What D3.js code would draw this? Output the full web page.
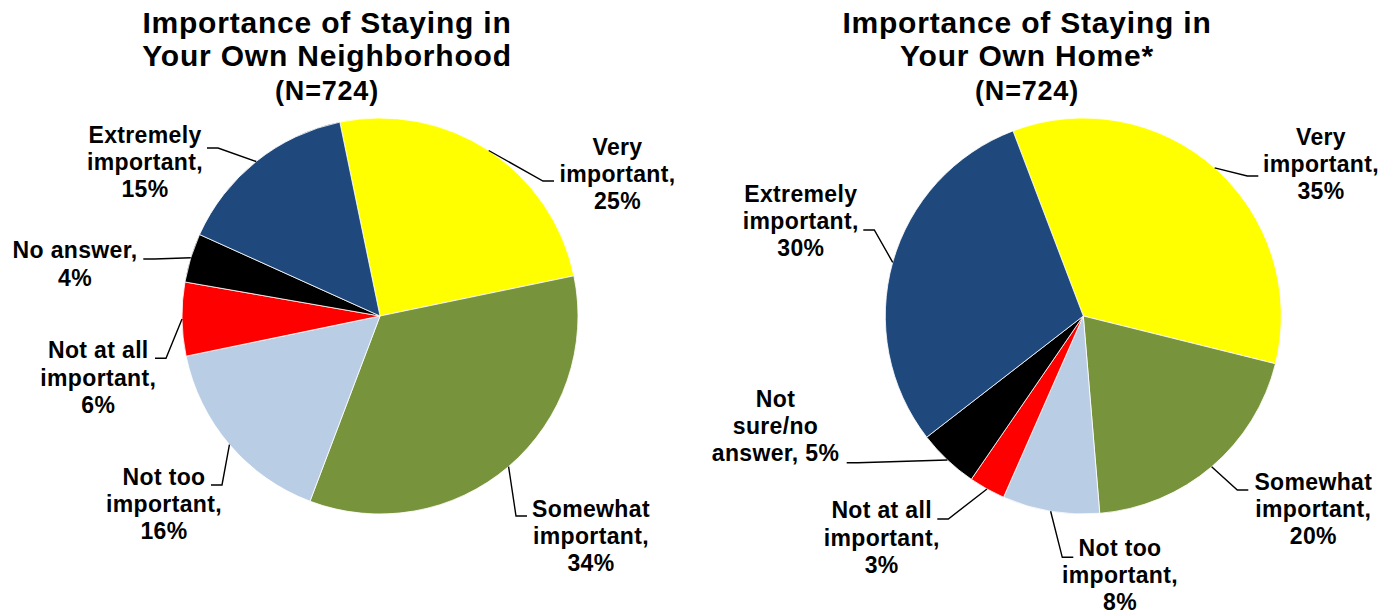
<!DOCTYPE html>
<html>
<head>
<meta charset="utf-8">
<script src="https://cdn.jsdelivr.net/npm/d3@7"></script>
<style>
  html, body { margin: 0; padding: 0; background: #fff; }
  svg { display: block; }
  text { font-family: "Liberation Sans", Arial, sans-serif; font-weight: bold; fill: #000; }
</style>
</head>
<body>
<svg id="chart" width="1395" height="615"></svg>
<script>
// ---------------- DATA ----------------
const leftTitle = ["Importance of Staying in", "Your Own Neighborhood", "(N=724)"];
const leftCategories = ["Very important", "Somewhat important", "Not too important", "Not at all important", "No answer", "Extremely important"];
const leftValues = [25, 34, 16, 6, 4, 15];

const rightTitle = ["Importance of Staying in", "Your Own Home*", "(N=724)"];
const rightCategories = ["Very important", "Somewhat important", "Not too important", "Not at all important", "Not sure/no answer", "Extremely important"];
const rightValues = [35, 20, 8, 3, 5, 30];

const sliceColors = ["#FFFF00", "#77933C", "#B9CDE5", "#FF0000", "#000000", "#1F497D"];

// ---------------- LAYOUT ----------------
const deg = Math.PI / 180;
const panels = [
  {
    title: leftTitle, categories: leftCategories, values: leftValues,
    cx: 380, cy: 316, r: 198, start: -11.7 * deg, titleX: 327,
    // label layout per slice: text centre x, first baseline y, words per line, hook point
    labels: [
      { x: 617.5, y: 155,   lines: [1, 1, 1], hx: 554,   hy: 181 },
      { x: 591,   y: 516.7, lines: [1, 1, 1], hx: 527,   hy: 516 },
      { x: 164,   y: 485,   lines: [2, 1, 1], hx: 211,   hy: 485 },
      { x: 98.3,  y: 358.3, lines: [3, 1, 1], hx: 155,   hy: 358.3 },
      { x: 75,    y: 258.3, lines: [2, 1],    hx: 143.3, hy: 259 },
      { x: 145,   y: 143,   lines: [1, 1, 1], hx: 207,   hy: 148 }
    ]
  },
  {
    title: rightTitle, categories: rightCategories, values: rightValues,
    cx: 1083.3, cy: 316, r: 198, start: -20.8 * deg, titleX: 1027,
    labels: [
      { x: 1321,   y: 145,   lines: [1, 1, 1], hx: 1258.3, hy: 176 },
      { x: 1313.3, y: 490,   lines: [1, 1, 1], hx: 1248.3, hy: 490 },
      { x: 1120,   y: 556,   lines: [2, 1, 1], hx: 1073.3, hy: 557.3 },
      { x: 881.7,  y: 518.3, lines: [3, 1, 1], hx: 937.3,  hy: 519 },
      { x: 775.5,  y: 406.7, lines: [1, 1, 2], hx: 846.7,  hy: 462.7 },
      { x: 800.8,  y: 201.7, lines: [1, 1, 1], hx: 863.3,  hy: 230 }
    ]
  }
];

const titleLineY = [33.3, 66, 100];
const titleFont = [30, 30, 27];
const labelLineH = 27.2;

const svg = d3.select("#chart");
svg.append("rect").attr("width", 1395).attr("height", 615).attr("fill", "#fff");

panels.forEach(p => {
  // title
  const tg = svg.append("g");
  p.title.forEach((t, i) => {
    tg.append("text")
      .attr("x", p.titleX).attr("y", titleLineY[i])
      .attr("text-anchor", "middle")
      .style("font-size", titleFont[i] + "px")
      .style("letter-spacing", "0.8px")
      .text(t);
  });

  const data = p.categories.map((c, i) => ({ name: c, value: p.values[i], color: sliceColors[i], layout: p.labels[i] }));
  const pie = d3.pie().sort(null).value(d => d.value)
    .startAngle(p.start).endAngle(p.start + 2 * Math.PI);
  const arcs = pie(data);
  const arc = d3.arc().innerRadius(0).outerRadius(p.r);
  const edge = d3.arc().innerRadius(p.r).outerRadius(p.r);

  const g = svg.append("g").attr("transform", `translate(${p.cx},${p.cy})`);
  g.selectAll("path.slice").data(arcs).join("path")
    .attr("class", "slice")
    .attr("d", arc)
    .attr("fill", d => d.data.color)
    .attr("stroke", "#fff")
    .attr("stroke-width", 0.8);

  // leader lines and labels
  const lg = svg.append("g");
  arcs.forEach(a => {
    const L = a.data.layout;
    const c = edge.centroid(a);
    const px = p.cx + c[0], py = p.cy + c[1];
    const dir = px > L.hx ? 1 : -1;
    const ex = L.hx + dir * 11;
    lg.append("path")
      .attr("d", `M${L.hx},${L.hy}L${ex},${L.hy}L${px},${py}`)
      .attr("fill", "none").attr("stroke", "#000").attr("stroke-width", 1.4);

    const words = (a.data.name + ", " + a.data.value + "%").split(" ");
    const lines = [];
    let k = 0;
    L.lines.forEach(n => { lines.push(words.slice(k, k + n).join(" ")); k += n; });
    const t = lg.append("text")
      .attr("text-anchor", "middle")
      .style("font-size", "23px")
      .style("letter-spacing", "0.35px");
    lines.forEach((s, i) => {
      t.append("tspan").attr("x", L.x).attr("y", L.y + i * labelLineH).text(s);
    });
  });
});
</script>
</body>
</html>
